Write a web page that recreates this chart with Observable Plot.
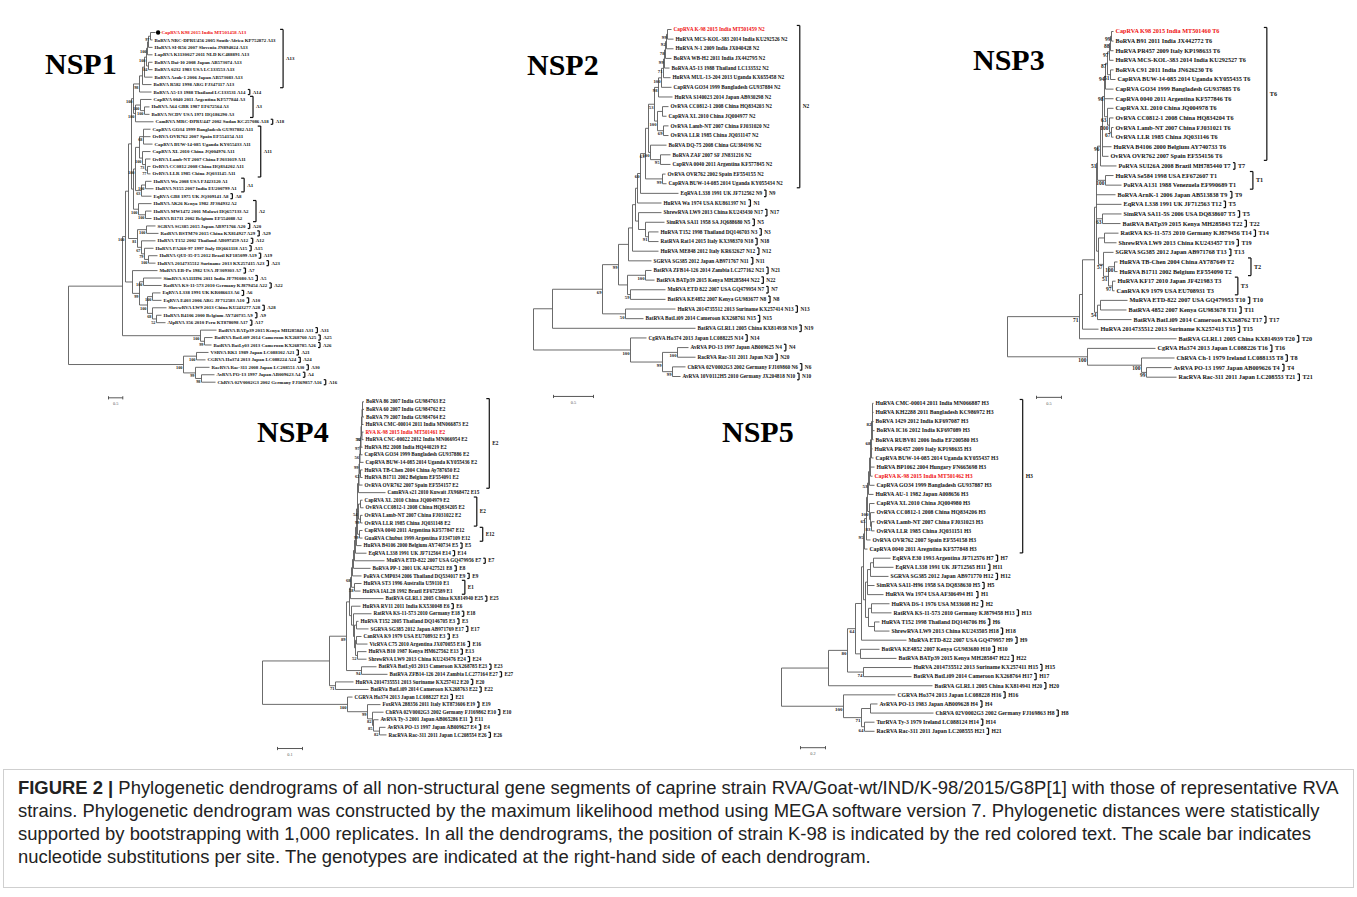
<!DOCTYPE html>
<html><head><meta charset="utf-8">
<script src="https://cdn.jsdelivr.net/npm/d3@7"></script>
<script src="https://cdn.jsdelivr.net/npm/@observablehq/plot@0.6"></script>
<style>
html,body{margin:0;padding:0;background:#fff;}
#fig{position:relative;width:1357px;height:897px;overflow:hidden;background:#fff;}
#fig svg{position:absolute;left:0;top:0;background:transparent !important;max-width:none !important;}
.ttl{position:absolute;font-family:"Liberation Serif","Times New Roman",serif;font-weight:bold;font-size:30px;line-height:30px;color:#000;white-space:nowrap;}
#capbox{position:absolute;left:3px;top:769px;width:1351px;height:119px;border:1px solid #cfcfcf;box-sizing:border-box;}
.cap{position:absolute;left:18px;height:23px;line-height:23px;font-family:"Liberation Sans",Arial,sans-serif;color:#222;white-space:nowrap;}
</style></head>
<body><div id="fig"></div>
<script>
// ---------------- DATA ----------------
const nsp1Strains = ["CapRVA K98 2015 India MT501458 A13","BoRVA NRC-DPRU456 2005 South-Africa KP752872 A13","HuRVA SI-R56 2007 Slovenia JN894024 A13","LapRVA K1130027 2011 NLD KC488891 A13","BoRVA Dai-10 2008 Japan AB573074 A13","BoRVA 0232 1983 USA LC133553 A13","BoRVA Azuk-1 2006 Japan AB573083 A13","BoRVA R582 1998 ARG FJ347117 A13","BoRVA A5-13 1988 Thailand LC133531 A14","CapRVA 0040 2011 Argentina KF577844 A3","HuRVA A64 GBR 1987 EF672564 A3","BoRVA NCDV USA 1971 HQ186290 A3","CamRVA MRC-DPRU447 2002 Sudan KC257086 A18","CapRVA GO34 1999 Bangladesh GU937882 A11","OvRVA OVR762 2007 Spain EF554154 A11","CapRVA BUW-14-085 Uganda KY055433 A11","CapRVA XL 2010 China JQ004976 A11","OvRVA Lamb-NT 2007 China FJ031019 A11","OvRVA CC0812 2008 China HQ834202 A11","OvRVA LLR 1985 China JQ031145 A11","HuRVA Wa 2008 USA FJ423120 A1","HuRVA N155 2007 India EU200799 A1","EqRVA GB8 1975 UK JQ309141 A8","HuRVA AK26 Kenya 1982 JF304932 A2","HuRVA MW1472 2001 Malawi HQ657133 A2","HuRVA B1711 2002 Belgium EF554088 A2","SGRVA SG385 2015 Japan AB971766 A20","RatRVA BSTM70 2015 China KX814927 A29","HuRVA T152 2002 Thailand AB097459 A12","HuRVA PA260-97 1997 Italy HQ661118 A15","HuRVA QUI-35-F5 2012 Brazil KF185099 A19","HuRVA 2014735512 Suriname 2013 KX257415 A23","MuRVA EB-Po 1982 USA JF309303 A7","SimRVA SA11H96 2011 India JF791080 A5","RatRVA KS-11-573 2010 Germany KJ879454 A22","EqRVA L338 1991 UK KR086613 A6","EqRVA E403 2006 ARG JF712583 A10","ShrewRVA LW9 2013 China KU243277 A28","HuRVA B4106 2000 Belgium AY740735 A9","AlpRVA 356 2010 Peru KT878098 A17","BatRVA BATp39 2015 Kenya MH285841 A31","BatRVA BatLi09 2014 Cameroon KX268760 A25","BatRVA BatLy03 2013 Cameroon KX268785 A26","VSRVA RK1 1989 Japan LC088102 A21","CGRVA Ho374 2013 Japan LC088224 A24","RacRVA Rac-311 2008 Japan LC208551 A30","AvRVA PO-13 1997 Japan AB009623 A4","ChRVA 02V0002G3 2002 Germany FJ169857 A16"];
const nsp1Groups = [["A13",1,8],["A14",9,9],["A3",10,12],["A18",13,13],["A11",14,20],["A1",21,22],["A8",23,23],["A2",24,26],["A20",27,27],["A29",28,28],["A12",29,29],["A15",30,30],["A19",31,31],["A23",32,32],["A7",33,33],["A5",34,34],["A22",35,35],["A6",36,36],["A10",37,37],["A28",38,38],["A9",39,39],["A17",40,40],["A31",41,41],["A25",42,42],["A26",43,43],["A21",44,44],["A24",45,45],["A30",46,46],["A4",47,47],["A16",48,48]];
const nsp1Tree = [
 "((((((",
 "(((((((1:.175,2:.07)97:.07,3:.14):.035,4:.175)100:.035,(5:.14,6:.14)84:.07)100:.07,7:.28):.07,8:.315):.105,9:.42)98",
 ":.21,((10:.385,(11:.175,12:.175)100:.14)100:.175,13:.63)100:.07)100",
 ":.07,((((14:.245,15:.245,16:.315)68:.14,(17:.28,(18:.175,(19:.105,20:.105)77:.07)73:.105)100:.105):.14,((21:.21,22:.28)100:.14,23:.35)63:.21)100:.07,(24:.455,(25:.21,26:.21)100:.245)100:.175):.07)",
 ":.105,((27:.315,28:.42)100:.315,(29:.49,(30:.315,(31:.315,32:.245)100:.14)79:.105)67:.14)81:.315)",
 ":.105,(33:.875,((34:.63,35:.63)100:.14,((36:.28,37:.315)100:.175,(38:.49,(39:.175,40:.315)52:.14)68:.175)100:.28)99:.245):.245)100",
 ":.105,(41:.56,(42:.28,43:.245)99:.14)100:2.73)",
 ":1.89,((44:.42,45:.315)100:.455,(46:.49,(47:.455,48:.49)98:.21)99:.42)100:4.025);"
].join("");

const nsp2Strains = ["CapRVA K-98 2015 India MT501459 N2","HuRVA MCS-KOL-383 2014 India KU292526 N2","HuRVA N-1 2009 India JX040428 N2","BoRVA WB-H2 2011 India JX442795 N2","BoRVA A5-13 1988 Thailand LC133532 N2","HuRVA MUL-13-204 2013 Uganda KX655458 N2","CapRVA GO34 1999 Bangladesh GU937884 N2","HuRVA S140023 2014 Japan AB930298 N2","OvRVA CC0812-1 2008 China HQ834203 N2","CapRVA XL 2010 China JQ004977 N2","OvRVA Lamb-NT 2007 China FJ031020 N2","OvRVA LLR 1985 China JQ031147 N2","BoRVA DQ-75 2008 China GU384196 N2","BoRVA ZAF 2007 SF JN831216 N2","CapRVA 0040 2011 Argentina KF577845 N2","OvRVA OVR762 2002 Spain EF554155 N2","CapRVA BUW-14-085 2014 Uganda KY055434 N2","EqRVA L338 1991 UK JF712562 N9","HuRVA Wa 1974 USA KU861397 N1","ShrewRVA LW9 2013 China KU243430 N17","SimRVA SA11 1958 SA JQ688680 N5","HuRVA T152 1998 Thailand DQ146703 N3","RatRVA Rat14 2015 Italy KX398370 N18","HuRVA ME848 2012 Italy KR632627 N12","SGRVA SG385 2012 Japan AB971767 N11","BatRVA ZFB14-126 2014 Zambia LC277162 N21","BatRVA BATp39 2015 Kenya MH285844 N22","MuRVA ETD 822 2007 USA GQ479954 N7","BatRVA KE4852 2007 Kenya GU983677 N8","HuRVA 2014735512 2013 Suriname KX257414 N13","BatRVA BatLi09 2014 Cameroon KX268761 N15","BatRVA GLRL1 2005 China KX814938 N19","CgRVA Ho374 2013 Japan LC088225 N14","AvRVA PO-13 1997 Japan AB009625 N4","RacRVA Rac-311 2011 Japan N20","ChRVA 02V0002G3 2002 Germany FJ169860 N6","AvRVA 10V0112H5 2010 Germany JX204818 N10"];
const nsp2Groups = [["N2",1,17],["N9",18,18],["N1",19,19],["N17",20,20],["N5",21,21],["N3",22,22],["N18",23,23],["N12",24,24],["N11",25,25],["N21",26,26],["N22",27,27],["N7",28,28],["N8",29,29],["N13",30,30],["N15",31,31],["N19",32,32],["N14",33,33],["N4",34,34],["N20",35,35],["N6",36,36],["N10",37,37]];
const nsp2Tree = [
 "(((((((((((((",
 "((((((1:.05,2:.075)99:.0125,3:.0875)92:.0125,4:.075)78:.0125,5:.0625)99:.0125,6:.0875)71:.025,7:.125)100",
 ":.0375,8:.175)98",
 ":.05,((9:.075,10:.05):.0625,(11:.0625,12:.0625)69:.075)100:.0375)53",
 ":.075,(13:.2,(14:.125,15:.125)95:.125)100:.025)",
 ":.0375,(16:.0375,17:.05)99:.2125)63",
 ":.0625,18:.475)60",
 ":.0375,19:.3)",
 ":.025,(20:.2875,(21:.2375,(22:.125,23:.125)91:.0375):.0875):.0375)",
 ":.0375,24:.325)",
 ":.05,25:.2875)",
 ":.125,((26:.075,27:.1125)100:.225,(28:.4375,29:.4375)59:.0375):.1125)99",
 ":.2,(30:.625,31:.225)50:.2875)69",
 ":.625,32:1.7875)",
 ":.2375,(33:.2,((34:.1375,35:.225)100:.1875,(36:.1625,37:.1)99:.125)99:.4)100:1.2125);"
].join("");

const nsp3Strains = ["CapRVA K98 2015 India MT501460 T6","BoRVA B91 2011 India JX442772 T6","HuRVA PR457 2009 Italy KP198633 T6","HuRVA MCS-KOL-383 2014 India KU292527 T6","BoRVA C91 2011 India JN626230 T6","CapRVA BUW-14-085 2014 Uganda KY055435 T6","CapRVA GO34 1999 Bangladesh GU937885 T6","CapRVA 0040 2011 Argentina KF577846 T6","CapRVA XL 2010 China JQ004978 T6","OvRVA CC0812-1 2008 China HQ834204 T6","OvRVA Lamb-NT 2007 China FJ031021 T6","OvRVA LLR 1985 China JQ031146 T6","HuRVA B4106 2000 Belgium AY740733 T6","OvRVA OVR762 2007 Spain EF554156 T6","PoRVA SUI26A 2008 Brazil MH785440 T7","HuRVA Se584 1998 USA EF672607 T1","PoRVA A131 1988 Venezuela EF990689 T1","BoRVA ArnK-1 2006 Japan AB513838 T9","EqRVA L338 1991 UK JF712563 T12","SimRVA SA11-5S 2006 USA DQ838607 T5","BatRVA BATp39 2015 Kenya MH285843 T22","RatRVA KS-11-573 2010 Germany KJ879456 T14","ShrewRVA LW9 2013 China KU243457 T19","SGRVA SG385 2012 Japan AB971768 T13","HuRVA TB-Chen 2004 China AY787649 T2","HuRVA B1711 2002 Belgium EF554090 T2","HuRVA KF17 2010 Japan JF421983 T3","CanRVA K9 1979 USA EU708931 T3","MuRVA ETD-822 2007 USA GQ479953 T10","BatRVA 4852 2007 Kenya GU983678 T11","BatRVA BatLi09 2014 Cameroon KX268762 T17","HuRVA 2014735512 2013 Suriname KX257413 T15","BatRVA GLRL1 2005 China KX814939 T20","CgRVA Ho374 2013 Japan LC088226 T16","ChRVA Ch-1 1979 Ireland LC088135 T8","AvRVA PO-13 1997 Japan AB009626 T4","RacRVA Rac-311 2011 Japan LC208553 T21"];
const nsp3Groups = [["T6",1,14],["T7",15,15],["T1",16,17],["T9",18,18],["T5",19,19],["T5",20,20],["T22",21,21],["T14",22,22],["T19",23,23],["T13",24,24],["T2",25,26],["T3",27,28],["T10",29,29],["T11",30,30],["T17",31,31],["T15",32,32],["T20",33,33],["T16",34,34],["T8",35,35],["T4",36,36],["T21",37,37]];
const nsp3Tree = [
 "((((((((((",
 "((((1:.04,2:.04)99:.02,3:.06)88:.02,4:.08)97:.04,(5:.06,6:.1)51:.06)87",
 ":.04,7:.16)94",
 ":.02,8:.18,(9:.12,(10:.08,(11:.04,12:.04)67:.04)100:.04)63:.06)98",
 ":.04,13:.18,14:.12)",
 ":.04,15:.32)96",
 ":.06,(16:.16,17:.32)100:.16)51",
 ":.02,18:.38,19:.5,(20:.38,21:.36)63:.12,((22:.28,23:.24):.12,(24:.2,((25:.06,26:.06)100:.12,(27:.06,28:.04)97:.08)51:.1)57:.1):.04)",
 ":.04,((29:.54,30:.52):.06,31:.68)54:.06)",
 ":.24,32:.32)",
 ":.06,33:1.94)71",
 ":1.44,(34:1.36,(35:.66,(36:.5,37:.6)99:.1)100:1.08)100:1.6);"
].join("");

const nsp4Strains = ["BoRVA 86 2007 India GU984763 E2","BoRVA 60 2007 India GU984762 E2","BoRVA 79 2007 India GU984764 E2","HuRVA CMC-00014 2011 India MN066873 E2","RVA K-98 2015 India MT501461 E2","HuRVA CNC-00022 2012 India MN066954 E2","HuRVA H2 2008 India HQ440219 E2","CapRVA GO34 1999 Bangladesh GU937886 E2","CapRVA BUW-14-085 2014 Uganda KY055436 E2","HuRVA TB-Chen 2004 China Ay787650 E2","HuRVA B1711 2002 Belgium EF554091 E2","OvRVA OVR762 2007 Spain EF554157 E2","CamRVA s21 2010 Kuwait JX968472 E15","CapRVA XL 2010 China JQ004979 E2","OvRVA CC0812-1 2008 China HQ834205 E2","OvRVA Lamb-NT 2007 China FJ031022 E2","OvRVA LLR 1985 China JQ031148 E2","CapRVA 0040 2011 Argentina KF577847 E12","GuaRVA Chubut 1999 Argentina FJ347109 E12","HuRVA B4106 2000 Belgium AY740734 E5","EqRVA L338 1991 UK JF712564 E14","MuRVA ETD-822 2007 USA GQ479956 E7","BoRVA PP-1 2001 UK AF427521 E8","PoRVA CMP034 2006 Thailand DQ534017 E9","HuRVA ST3 1996 Australia U59110 E1","HuRVA IAL28 1992 Brazil EF672589 E1","BatRVA GLRL1 2005 China KX814940 E25","HuRVA RV11 2011 India KX530048 E6","RatRVA KS-11-573 2010 Germany E18","HuRVA T152 2005 Thailand DQ146705 E3","SGRVA SG385 2012 Japan AB971769 E17","CanRVA K9 1979 USA EU708932 E3","VicRVA C75 2010 Argentina JX070055 E16","HuRVA B10 1987 Kenya HM627562 E13","ShrewRVA LW9 2013 China KU243476 E24","BatRVA BatLy03 2013 Cameroon KX268785 E23","BatRVA ZFB14-126 2014 Zambia LC277164 E27","HuRVA 2014735551 2013 Suriname KX257412 E20","BatRVa BatLi09 2014 Cameroon KX268763 E22","CGRVA Ho374 2013 Japan LC088227 E21","FoxRVA 288356 2011 Italy KT873606 E19","ChRVA 02V0002G3 2002 Germany FJ169862 E10","AvRVA Ty-3 2001 Japan AB065286 E11","AvRVA PO-13 1997 Japan AB009627 E4","RacRVA Rac-311 2011 Japan LC208554 E26"];
const nsp4Groups = [["E2",1,12],["E2",14,17],["E12",18,19],["E5",20,20],["E14",21,21],["E7",22,22],["E8",23,23],["E9",24,24],["E1",25,26],["E25",27,27],["E6",28,28],["E18",29,29],["E3",30,30],["E17",31,31],["E3",32,32],["E16",33,33],["E13",34,34],["E24",35,35],["E23",36,36],["E27",37,37],["E20",38,38],["E22",39,39],["E21",40,40],["E19",41,41],["E10",42,42],["E11",43,43],["E4",44,44],["E26",45,45]];
const nsp4Tree = [
 "((((((((((((",
 "((((((((", "(1:.006,2:.006,3:.006)", ":.002,4:.006)", ":.002,(5:.006,6:.006)92:.002)", ":.002,7:.006)53", ":.002,8:.008)97", ":.002,9:.014)56", ":.002,(10:.008,11:.008)62:.004)99", ":.002,12:.014)", ":.002,13:.108)",
 ":.004,((14:.008,15:.012):.008,(16:.008,17:.008)99:.008)54:.004,(18:.012,19:.012)99:.008)",
 ":.004,20:.02)",
 ":.004,21:.044)",
 ":.004,22:.12)",
 ":.004,23:.068)",
 ":.004,24:.036)",
 ":.004,(25:.028,26:.024)58:.012)68",
 ":.004,27:.132)",
 ":.004,(28:.036,(29:.072,((30:.008,31:.048):.008,((32:.02,33:.044):.004,(34:.036,35:.036)52:.008):.004):.004):.008):.008)",
 ":.012,(36:.06,37:.104)94:.06)89",
 ":.068,(38:.072,39:.132)71:.024)",
 ":.268,(40:.02,(41:.052,(42:.044,(43:.02,(44:.024,45:.028)82:.024)85:.004)82:.02)99:.08)100:.34);"
].join("");

const nsp5Strains = ["HuRVA CMC-00014 2011 India MN066887 H3","HuRVA KH2288 2011 Bangladesh KC986972 H3","BoRVA 1429 2012 India KF697087 H3","BoRVA IC16 2012 India KF697089 H3","BoRVA RUBV81 2006 India EF200580 H3","HuRVA PR457 2009 Italy KP198635 H3","CapRVA BUW-14-085 2014 Uganda KY055437 H3","HuRVA BP1062 2004 Hungary FN665698 H3","CapRVA K-98 2015 India MT501462 H3","CapRVA GO34 1999 Bangladesh GU937887 H3","HuRVA AU-1 1982 Japan A008656 H3","CapRVA XL 2010 China JQ004980 H3","OvRVA CC0812-1 2008 China HQ834206 H3","OvRVA Lamb-NT 2007 China FJ031023 H3","OvRVA LLR 1985 China JQ031151 H3","OvRVA OVR762 2007 Spain EF554158 H3","CapRVA 0040 2011 Aregntina KF577848 H3","EqRVA E30 1993 Argentina JF712576 H7","EqRVA L338 1991 UK JF712565 H11","SGRVA SG385 2012 Japan AB971770 H12","SimRVA SA11-H96 1958 SA DQ838630 H5","HuRVA Wa 1974 USA AF306494 H1","HuRVA DS-1 1976 USA M33608 H2","RatRVA KS-11-573 2010 Germany KJ879458 H13","HuRVA T152 1998 Thailand DQ146706 H6","ShrewRVA LW9 2013 China KU243505 H18","MuRVA ETD-822 2007 USA GQ479957 H9","BatRVA KE4852 2007 Kenya GU983680 H10","BatRVA BATp39 2015 Kenya MH285847 H22","HuRVA 2014735512 2013 Suriname KX257411 H15","BatRVA BatLi09 2014 Cameroon KX268764 H17","BatRVA GLRL1 2005 China KX814941 H20","CGRVA Ho374 2013 Japan LC088228 H16","AvRVA PO-13 1983 Japan AB009628 H4","ChRVA 02V0002G3 2002 Germany FJ169863 H8","TurRVA Ty-3 1979 Ireland LC088124 H14","RacRVA Rac-311 2011 Japan LC208555 H21"];
const nsp5Groups = [["H3",1,17],["H7",18,18],["H11",19,19],["H12",20,20],["H5",21,21],["H1",22,22],["H2",23,23],["H13",24,24],["H6",25,25],["H18",26,26],["H9",27,27],["H10",28,28],["H22",29,29],["H15",30,30],["H17",31,31],["H20",32,32],["H16",33,33],["H4",34,34],["H8",35,35],["H14",36,36],["H21",37,37]];
const nsp5Tree = [
 "((((((((",
 "((12:.04,(13:.032,(14:.024,15:.024)83:.008):.008)100:.016,",
 "(((((1:.008,2:.008,3:.008,4:.016,5:.008)82:.008,6:.008,7:.016)68:.008,8:.032,9:.016):.008,10:.04):.008,11:.04)53:.008)",
 ":.008,16:.032)65",
 ":.016,17:.024)95",
 ":.008,((((18:.136,19:.16):.024,20:.144):.024,21:.056,22:.128):.016,((23:.144,24:.16):.024,(25:.04,26:.12):.048):.024):.016)",
 ":.016,27:.36)",
 ":.048,(28:.152,29:.288):.04)64",
 ":.064,(30:.384,31:.384)74:.128)80",
 ":.152,32:.832)",
 ":.376,(33:.416,((34:.056,35:.504):.072,(36:.08,37:.08)64:.024)71:.144)100:.496);"
].join("");

const k98Rows = [1, 1, 1, 5, 9];            // row of strain K-98 in each tree
const scaleValues = [0.5, 0.5, 0.5, 0.1, 0.2]; // substitutions per site
const titles = ["NSP1", "NSP2", "NSP3", "NSP4", "NSP5"];
const captionLines = [
  ["FIGURE 2 |", " Phylogenetic dendrograms of all non-structural gene segments of caprine strain RVA/Goat-wt/IND/K-98/2015/G8P[1] with those of representative RVA"],
  ["", "strains. Phylogenetic dendrogram was constructed by the maximum likelihood method using MEGA software version 7. Phylogenetic distances were statistically"],
  ["", "supported by bootstrapping with 1,000 replicates. In all the dendrograms, the position of strain K-98 is indicated by the red colored text. The scale bar indicates"],
  ["", "nucleotide substitutions per site. The genotypes are indicated at the right-hand side of each dendrogram."]
];

// ---------------- LAYOUT (page placement) ----------------
const panelLayout = [
  {root:68,  ppu:1/0.035, top:32,    bottom:381.7, font:4.9, gap:7,  sOff:1.4,   sRow:2.1,  tl:45,  tt:49},
  {root:533, ppu:80,      top:29,    bottom:376,   font:5.3, gap:12, sOff:0.25,  sRow:2.07, tl:527, tt:50},
  {root:1007,ppu:50,      top:31,    bottom:376.7, font:6.2, gap:16, sOff:0.58,  sRow:2.1,  tl:973, tt:45},
  {root:262, ppu:250,     top:401.3, bottom:734.4, font:5.2, gap:12, sOff:0.06,  sRow:1.8,  tl:257, tt:417},
  {root:781, ppu:125,     top:402.8, bottom:730.8, font:5.7, gap:24, sOff:0.152, sRow:1.8,  tl:722, tt:417}
];
const panels = [
  {strains:nsp1Strains, tree:nsp1Tree, groups:nsp1Groups, marker:true},
  {strains:nsp2Strains, tree:nsp2Tree, groups:nsp2Groups, marker:false},
  {strains:nsp3Strains, tree:nsp3Tree, groups:nsp3Groups, marker:false},
  {strains:nsp4Strains, tree:nsp4Tree, groups:nsp4Groups, marker:false},
  {strains:nsp5Strains, tree:nsp5Tree, groups:nsp5Groups, marker:false}
];

// ---------------- CODE ----------------
const SERIF = '"Liberation Serif","Times New Roman",serif';
const cv = document.createElement("canvas").getContext("2d");
function textWidth(s, size, weight) { cv.font = `${weight||"bold"} ${size}px "Liberation Serif"`; return cv.measureText(s).width; }

function parseNewick(s) {
  let i = 0;
  function node() {
    const n = {children: [], length: 0, label: ""};
    if (s[i] === "(") {
      i++;
      n.children.push(node());
      while (s[i] === ",") { i++; n.children.push(node()); }
      i++;
    }
    let tok = "";
    while (i < s.length && !",():;".includes(s[i])) tok += s[i++];
    if (n.children.length) n.label = tok; else n.leaf = +tok;
    if (s[i] === ":") { i++; let l = ""; while (i < s.length && !",();".includes(s[i])) l += s[i++]; n.length = +l; }
    return n;
  }
  return node();
}

const fig = document.getElementById("fig");
const BR = "#5a5a5a";

panels.forEach((p, k) => {
  const L = panelLayout[k];
  const n = p.strains.length;
  const k98 = k98Rows[k];
  const root = parseNewick(p.tree);
  const hseg = [], vseg = [], leaves = [], boots = [];
  (function walk(nd, px) {
    nd.x = px + nd.length;
    nd.children.forEach(c => walk(c, nd.x));
    if (nd.children.length) {
      const ys = nd.children.map(c => c.y);
      const y0 = Math.min(...ys), y1 = Math.max(...ys);
      nd.y = (y0 + y1) / 2;
      vseg.push({x: nd.x, y1: y0, y2: y1});
      nd.children.forEach(c => hseg.push({x1: nd.x, x2: c.x, y: c.y}));
      if (nd.label) boots.push({x: nd.x, y: nd.y, t: nd.label});
    } else {
      nd.y = nd.leaf;
      leaves.push({x: nd.x, y: nd.y, name: p.strains[nd.leaf - 1], hi: nd.leaf === k98});
    }
  })(root, 0);

  const ppu = L.ppu;
  const rowPx = (L.bottom - L.top) / (n - 1);
  const dxOf = d => (d.hi && p.marker) ? 6 : 2;
  const ends = new Map(leaves.map(d => [d.y, d.x + (dxOf(d) + textWidth(d.name, L.font)) / ppu]));
  const bseg = [], blab = [];
  for (const [g, a, b] of p.groups) {
    let m = -Infinity;
    for (let i = a; i <= b; i++) m = Math.max(m, ends.get(i));
    const single = a === b;
    const bx = m + (single ? 3.5 : L.gap) / ppu;
    const ext = single ? 0.34 : 0.42;
    const tk = (single ? 2 : 3) / ppu;
    bseg.push({x1: bx, x2: bx, y1: a - ext, y2: b + ext},
              {x1: bx - tk, x2: bx, y1: a - ext, y2: a - ext},
              {x1: bx - tk, x2: bx, y1: b + ext, y2: b + ext});
    blab.push({x: bx, y: (a + b) / 2, t: g});
  }
  const sv = scaleValues[k];
  const sy = n + L.sRow, sx = L.sOff, st = 1.6 / rowPx;
  const sbar = [{x1: sx, x2: sx + sv, y1: sy, y2: sy},
                {x1: sx, x2: sx, y1: sy - st, y2: sy + st},
                {x1: sx + sv, x2: sx + sv, y1: sy - st, y2: sy + st}];

  const normal = leaves.filter(d => !d.hi), hi = leaves.filter(d => d.hi);
  const marks = [
    Plot.link(hseg, {x1: "x1", x2: "x2", y1: "y", y2: "y", stroke: BR, strokeWidth: 0.9}),
    Plot.link(vseg, {x1: "x", x2: "x", y1: "y1", y2: "y2", stroke: BR, strokeWidth: 0.9}),
    Plot.text(normal, {x: "x", y: "y", text: "name", textAnchor: "start", dx: 2, fontSize: L.font, fontWeight: "bold", fontFamily: SERIF, fill: "#111"}),
    Plot.text(hi, {x: "x", y: "y", text: "name", textAnchor: "start", dx: p.marker ? 6 : 2, fontSize: L.font, fontWeight: "bold", fontFamily: SERIF, fill: "#f01010"}),
    Plot.text(boots, {x: "x", y: "y", text: "t", textAnchor: "end", dx: -1, dy: 3.2, fontSize: L.font * 0.88, fontWeight: "bold", fontFamily: SERIF, fill: "#222"}),
    Plot.link(bseg, {x1: "x1", x2: "x2", y1: "y1", y2: "y2", stroke: "#111", strokeWidth: 1.2}),
    Plot.text(blab, {x: "x", y: "y", text: "t", textAnchor: "start", dx: 3, fontSize: L.font, fontWeight: "bold", fontFamily: SERIF, fill: "#111"}),
    Plot.link(sbar, {x1: "x1", x2: "x2", y1: "y1", y2: "y2", stroke: "#444", strokeWidth: 0.9}),
    Plot.text([{x: sx + sv / 2, y: sy, t: String(sv)}], {x: "x", y: "y", text: "t", dy: 6, fontSize: 4.3, fontFamily: SERIF, fill: "#555"})
  ];
  if (p.marker) marks.push(Plot.dot(hi, {x: "x", y: "y", dx: 2.6, r: 2.2, fill: "#000", stroke: "none"}));

  const svg = Plot.plot({
    width: 1357, height: 770,
    style: {background: "transparent", overflow: "visible"},
    x: {type: "linear", domain: [0, 1], range: [L.root, L.root + ppu], axis: null},
    y: {type: "linear", domain: [1, n], range: [L.top, L.bottom], axis: null},
    marks
  });
  fig.appendChild(svg);

  const t = document.createElement("div");
  t.className = "ttl"; t.textContent = titles[k];
  t.style.left = L.tl + "px"; t.style.top = L.tt + "px";
  fig.appendChild(t);
});

// caption
const box = document.createElement("div"); box.id = "capbox"; fig.appendChild(box);
cv.font = '16px "Liberation Sans"';
const w1 = cv.measureText(captionLines[0][0] + captionLines[0][1]).width * 1.01;
const capSize = Math.max(13, Math.min(19, 16 * 1334 / w1));
captionLines.forEach(([b, r], i) => {
  const d = document.createElement("div");
  d.className = "cap";
  d.style.top = (776 + i * 23) + "px";
  d.style.fontSize = capSize.toFixed(2) + "px";
  if (b) { const s = document.createElement("b"); s.textContent = b; d.appendChild(s); }
  d.appendChild(document.createTextNode(r));
  fig.appendChild(d);
});
</script>
</body></html>
